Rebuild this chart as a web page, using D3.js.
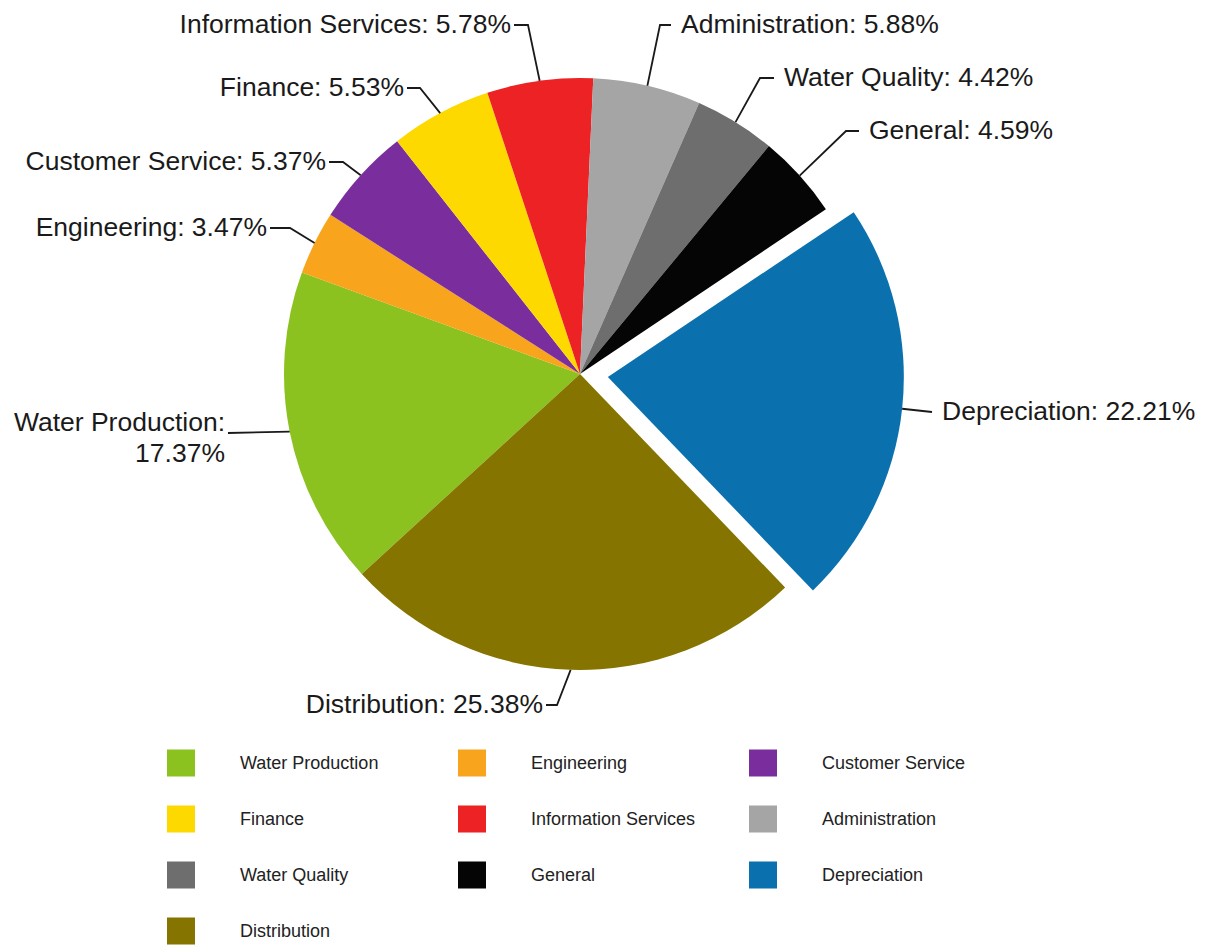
<!DOCTYPE html>
<html>
<head>
<meta charset="utf-8">
<script src="https://cdn.jsdelivr.net/npm/d3@7"></script>
<style>
  html, body { margin: 0; padding: 0; background: #ffffff; }
  svg { display: block; font-family: "Liberation Sans", Arial, sans-serif; }
</style>
</head>
<body>
<svg id="chart" width="1210" height="946"></svg>
<script>
// Expense share by department (percent of total)
const categories = [
  "Water Production", "Engineering", "Customer Service", "Finance",
  "Information Services", "Administration", "Water Quality", "General",
  "Depreciation", "Distribution"
];
const shares = [17.37, 3.47, 5.37, 5.53, 5.78, 5.88, 4.42, 4.59, 22.21, 25.38];
const colors = [
  "#8cc220", "#f8a41c", "#7a2e9e", "#fdd900", "#ec2224",
  "#a5a5a5", "#6e6e6e", "#050505", "#0b70ae", "#857400"
];
const exploded = ["Depreciation"];

// Label placement: text anchor point, alignment, and elbow x for the leader line
const labelLayout = {
  "Water Production":     { x: 225, y: 422, anchor: "end",   elbow: null, lines: 2 },
  "Engineering":          { x: 267, y: 227, anchor: "end",   elbow: 290 },
  "Customer Service":     { x: 326, y: 161, anchor: "end",   elbow: 343 },
  "Finance":              { x: 404, y: 87,  anchor: "end",   elbow: 420 },
  "Information Services": { x: 511, y: 24,  anchor: "end",   elbow: 528 },
  "Administration":       { x: 681, y: 24,  anchor: "start", elbow: 660 },
  "Water Quality":        { x: 784, y: 77,  anchor: "start", elbow: 760 },
  "General":              { x: 869, y: 130, anchor: "start", elbow: 846 },
  "Depreciation":         { x: 942, y: 411, anchor: "start", elbow: null },
  "Distribution":         { x: 543, y: 704, anchor: "end",   elbow: 557 }
};

const svg = d3.select("#chart");
const cx = 580, cy = 374, radius = 296, explodeDist = 28;
const startDeg = 227.5;

const data = categories.map((c, i) => ({ name: c, value: shares[i], color: colors[i] }));

const pie = d3.pie()
  .value(d => d.value)
  .sort(null)
  .startAngle(startDeg * Math.PI / 180)
  .endAngle((startDeg + 360) * Math.PI / 180);

const arc = d3.arc().innerRadius(0).outerRadius(radius);
const arcs = pie(data);

const g = svg.append("g").attr("transform", `translate(${cx},${cy})`);

function offsetOf(a) {
  if (!exploded.includes(a.data.name)) return [0, 0];
  const mid = (a.startAngle + a.endAngle) / 2;
  return [Math.sin(mid) * explodeDist, -Math.cos(mid) * explodeDist];
}

g.selectAll("path.slice")
  .data(arcs)
  .join("path")
  .attr("class", "slice")
  .attr("d", arc)
  .attr("fill", d => d.data.color)
  .attr("transform", d => { const o = offsetOf(d); return `translate(${o[0]},${o[1]})`; });

// Leader lines and labels
const labelG = svg.append("g");
arcs.forEach(a => {
  const lay = labelLayout[a.data.name];
  const mid = (a.startAngle + a.endAngle) / 2;
  const o = offsetOf(a);
  const px = cx + o[0] + Math.sin(mid) * radius;
  const py = cy + o[1] - Math.cos(mid) * radius;
  const text = `${a.data.name}: ${a.data.value.toFixed(2)}%`;
  const lineY = lay.y + 1;
  const gap = 3;
  let pts;
  if (lay.lines === 2) {
    pts = [[lay.x + gap, lay.y + 11], [px, py]];
  } else {
    const textEdge = lay.anchor === "end" ? lay.x + gap : lay.x - gap - 7;
    if (lay.elbow === null) {
      pts = [[textEdge, lineY], [px, py]];
    } else {
      pts = [[textEdge, lineY], [lay.elbow, lineY], [px, py]];
    }
  }
  labelG.append("path")
    .attr("d", d3.line()(pts))
    .attr("fill", "none")
    .attr("stroke", "#1a1a1a")
    .attr("stroke-width", 1.8);

  const t = labelG.append("text")
    .attr("x", lay.x)
    .attr("y", lay.y)
    .attr("text-anchor", lay.anchor)
    .attr("dominant-baseline", "central")
    .attr("font-size", 26.5)
    .attr("fill", "#1a1a1a");
  if (lay.lines === 2) {
    t.append("tspan").attr("x", lay.x).attr("dy", 0).text(`${a.data.name}:`);
    t.append("tspan").attr("x", lay.x).attr("dy", 31).text(`${a.data.value.toFixed(2)}%`);
  } else {
    t.text(text);
  }
});

// Legend: three columns, rows top to bottom
const legendCols = [167, 458, 749];
const legendRow0 = 763, legendRowStep = 56;
const legend = svg.append("g");
data.forEach((d, i) => {
  const col = i % 3, row = Math.floor(i / 3);
  const x = legendCols[col], y = legendRow0 + row * legendRowStep;
  legend.append("rect")
    .attr("x", x).attr("y", y - 13.5)
    .attr("width", 28).attr("height", 27)
    .attr("fill", d.color);
  legend.append("text")
    .attr("x", x + 73).attr("y", y)
    .attr("dominant-baseline", "central")
    .attr("font-size", 18)
    .attr("fill", "#222")
    .text(d.name);
});
</script>
</body>
</html>
